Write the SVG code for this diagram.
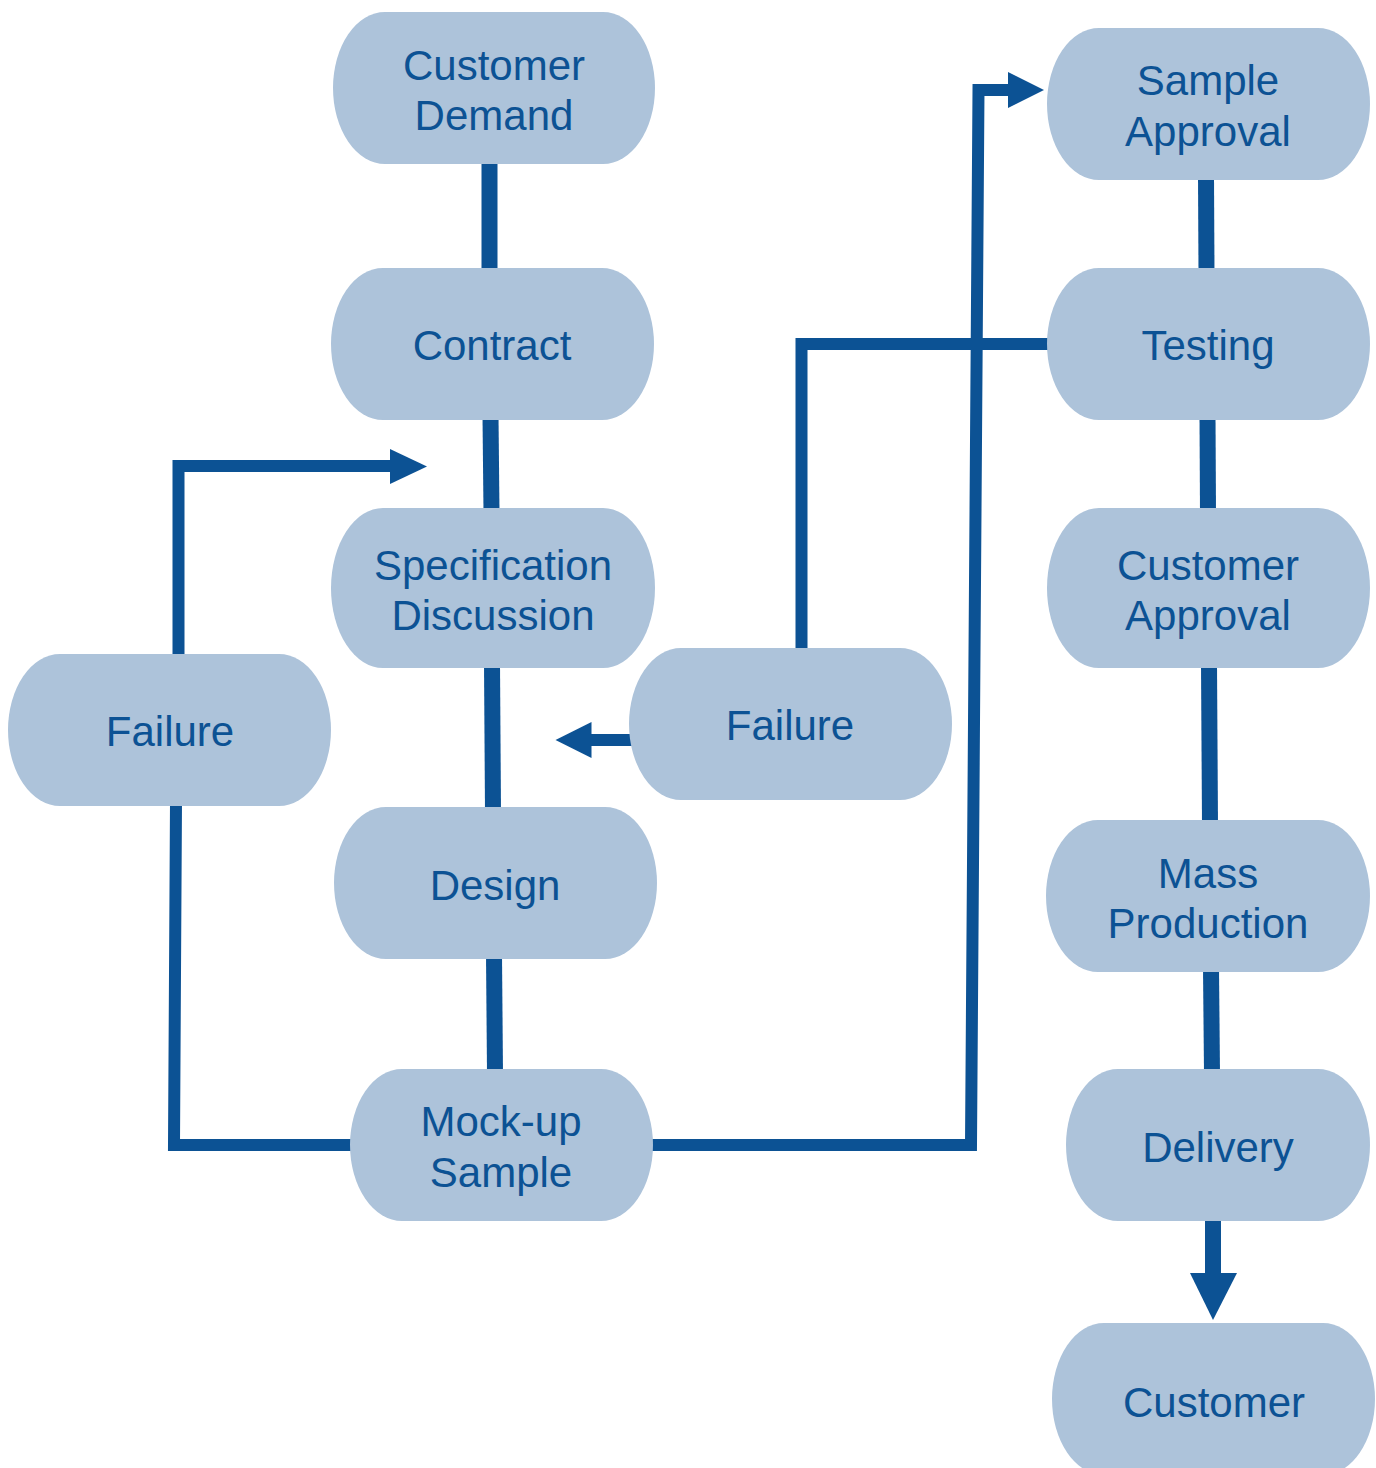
<svg xmlns="http://www.w3.org/2000/svg" width="1376" height="1468" viewBox="0 0 1376 1468">
<style>
.node{fill:#ADC3DA;}
.lbl{font-family:"Liberation Sans",Arial,sans-serif;font-size:42px;fill:#0C5294;text-anchor:middle;}
.main{stroke:#0C5294;stroke-width:16;fill:none;}
.loop{stroke:#0C5294;stroke-width:12;fill:none;stroke-linejoin:miter;}
.head{fill:#0C5294;}
</style>
<rect width="1376" height="1468" fill="#FFFFFF"/>
<g id="connectors">
<line class="main" x1="489.5" y1="160" x2="489.5" y2="272"/>
<line class="main" x1="490.5" y1="416" x2="491.5" y2="512"/>
<line class="main" x1="492" y1="664" x2="493" y2="811"/>
<line class="main" x1="494" y1="955" x2="495" y2="1073"/>
<line class="main" x1="1206" y1="176" x2="1206.5" y2="272"/>
<line class="main" x1="1207.5" y1="416" x2="1208" y2="512"/>
<line class="main" x1="1209" y1="664" x2="1210" y2="824"/>
<line class="main" x1="1211" y1="968" x2="1212" y2="1073"/>
<line class="main" x1="1213" y1="1217" x2="1213" y2="1276"/>
<polygon class="head" points="1190,1273 1237,1273 1213,1320"/>
<path class="loop" d="M354,1145 L174,1145 L176,802"/>
<path class="loop" d="M178.5,658 L178.5,466 L392,466"/>
<polygon class="head" points="390,449 427,466.5 390,484"/>
<path class="loop" d="M649,1145 L971,1145 L978.5,90 L1010,90"/>
<polygon class="head" points="1008,72 1044,90 1008,108"/>
<path class="loop" d="M1051,344 L801.5,344 L801.5,652" stroke-linejoin="round"/>
<line class="loop" x1="633" y1="740" x2="589" y2="740"/>
<polygon class="head" points="591.5,722 555.5,740 591.5,758"/>
</g>
<g id="customer-demand">
<rect class="node" x="333" y="12" width="322" height="152" rx="52" ry="76"/>
<text class="lbl" x="494" y="80">Customer</text>
<text class="lbl" x="494" y="130">Demand</text>
</g>
<g id="contract">
<rect class="node" x="331" y="268" width="323" height="152" rx="52" ry="76"/>
<text class="lbl" x="492" y="360">Contract</text>
</g>
<g id="specification-discussion">
<rect class="node" x="331" y="508" width="324" height="160" rx="52" ry="80"/>
<text class="lbl" x="493" y="580">Specification</text>
<text class="lbl" x="493" y="630">Discussion</text>
</g>
<g id="design">
<rect class="node" x="334" y="807" width="323" height="152" rx="52" ry="76"/>
<text class="lbl" x="495" y="900">Design</text>
</g>
<g id="mockup-sample">
<rect class="node" x="350" y="1069" width="303" height="152" rx="52" ry="76"/>
<text class="lbl" x="501" y="1136">Mock-up</text>
<text class="lbl" x="501" y="1187">Sample</text>
</g>
<g id="failure-left">
<rect class="node" x="8" y="654" width="323" height="152" rx="52" ry="76"/>
<text class="lbl" x="170" y="746">Failure</text>
</g>
<g id="failure-middle">
<rect class="node" x="629" y="648" width="323" height="152" rx="52" ry="76"/>
<text class="lbl" x="790" y="740">Failure</text>
</g>
<g id="sample-approval">
<rect class="node" x="1047" y="28" width="323" height="152" rx="52" ry="76"/>
<text class="lbl" x="1208" y="95">Sample</text>
<text class="lbl" x="1208" y="146">Approval</text>
</g>
<g id="testing">
<rect class="node" x="1047" y="268" width="323" height="152" rx="52" ry="76"/>
<text class="lbl" x="1208" y="360">Testing</text>
</g>
<g id="customer-approval">
<rect class="node" x="1047" y="508" width="323" height="160" rx="52" ry="80"/>
<text class="lbl" x="1208" y="580">Customer</text>
<text class="lbl" x="1208" y="630">Approval</text>
</g>
<g id="mass-production">
<rect class="node" x="1046" y="820" width="324" height="152" rx="52" ry="76"/>
<text class="lbl" x="1208" y="888">Mass</text>
<text class="lbl" x="1208" y="938">Production</text>
</g>
<g id="delivery">
<rect class="node" x="1066" y="1069" width="304" height="152" rx="52" ry="76"/>
<text class="lbl" x="1218" y="1162">Delivery</text>
</g>
<g id="customer">
<rect class="node" x="1052" y="1323" width="323" height="152" rx="52" ry="76"/>
<text class="lbl" x="1214" y="1417">Customer</text>
</g>
</svg>
